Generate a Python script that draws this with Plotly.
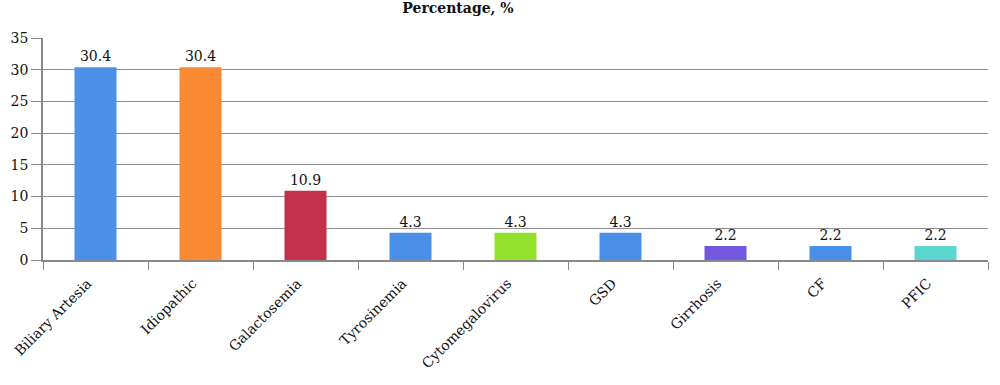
import plotly.graph_objects as go

categories = ["Biliary Artesia", "Idiopathic", "Galactosemia", "Tyrosinemia",
              "Cytomegalovirus", "GSD", "Girrhosis", "CF", "PFIC"]
values = [30.4, 30.4, 10.9, 4.3, 4.3, 4.3, 2.2, 2.2, 2.2]
value_labels = ["30.4", "30.4", "10.9", "4.3", "4.3", "4.3", "2.2", "2.2", "2.2"]
colors = ["#4a8fe8", "#f98a33", "#c3304a", "#4a8fe8", "#92e22e",
          "#4a8fe8", "#7357e0", "#4a8fe8", "#5bd6d0"]
y_ticks = [0, 5, 10, 15, 20, 25, 30, 35]

font_family = "DejaVu Serif"

fig = go.Figure(go.Bar(
    x=categories, y=values, text=value_labels, textposition="outside",
    marker=dict(color=colors, line=dict(width=0)),
    textfont=dict(family=font_family, size=14, color="#111"),
    width=0.4, cliponaxis=False,
))

fig.update_layout(
    width=1000, height=385,
    margin=dict(l=43, r=12, t=38, b=125),
    paper_bgcolor="white", plot_bgcolor="white",
    title=dict(text="<b>Percentage, %</b>", x=0.458, xanchor="center",
               y=1, yanchor="top", pad=dict(t=3),
               font=dict(family=font_family, size=14, color="#111")),
    showlegend=False,
    font=dict(family=font_family, color="#111"),
)
fig.update_xaxes(
    tickangle=-45, tickfont=dict(size=14, family=font_family, color="#111"),
    showline=True, linecolor="#888", linewidth=1.5,
    ticks="outside", tickson="boundaries", ticklen=8, tickcolor="#888",
    ticklabelshift=-8, ticklabelstandoff=8, automargin=False,
    showgrid=False,
)
fig.update_yaxes(
    range=[0, 35], tickvals=y_ticks,
    tickfont=dict(size=14, family=font_family, color="#111"),
    showline=True, linecolor="#888", linewidth=1.5,
    ticks="outside", ticklen=10, tickcolor="#888",
    showgrid=True, gridcolor="#8f8f8f", gridwidth=1.2,
    zeroline=False, automargin=False,
)

fig.write_html("out.html", config={"displayModeBar": False},
               post_script="document.body.style.margin='0';")
